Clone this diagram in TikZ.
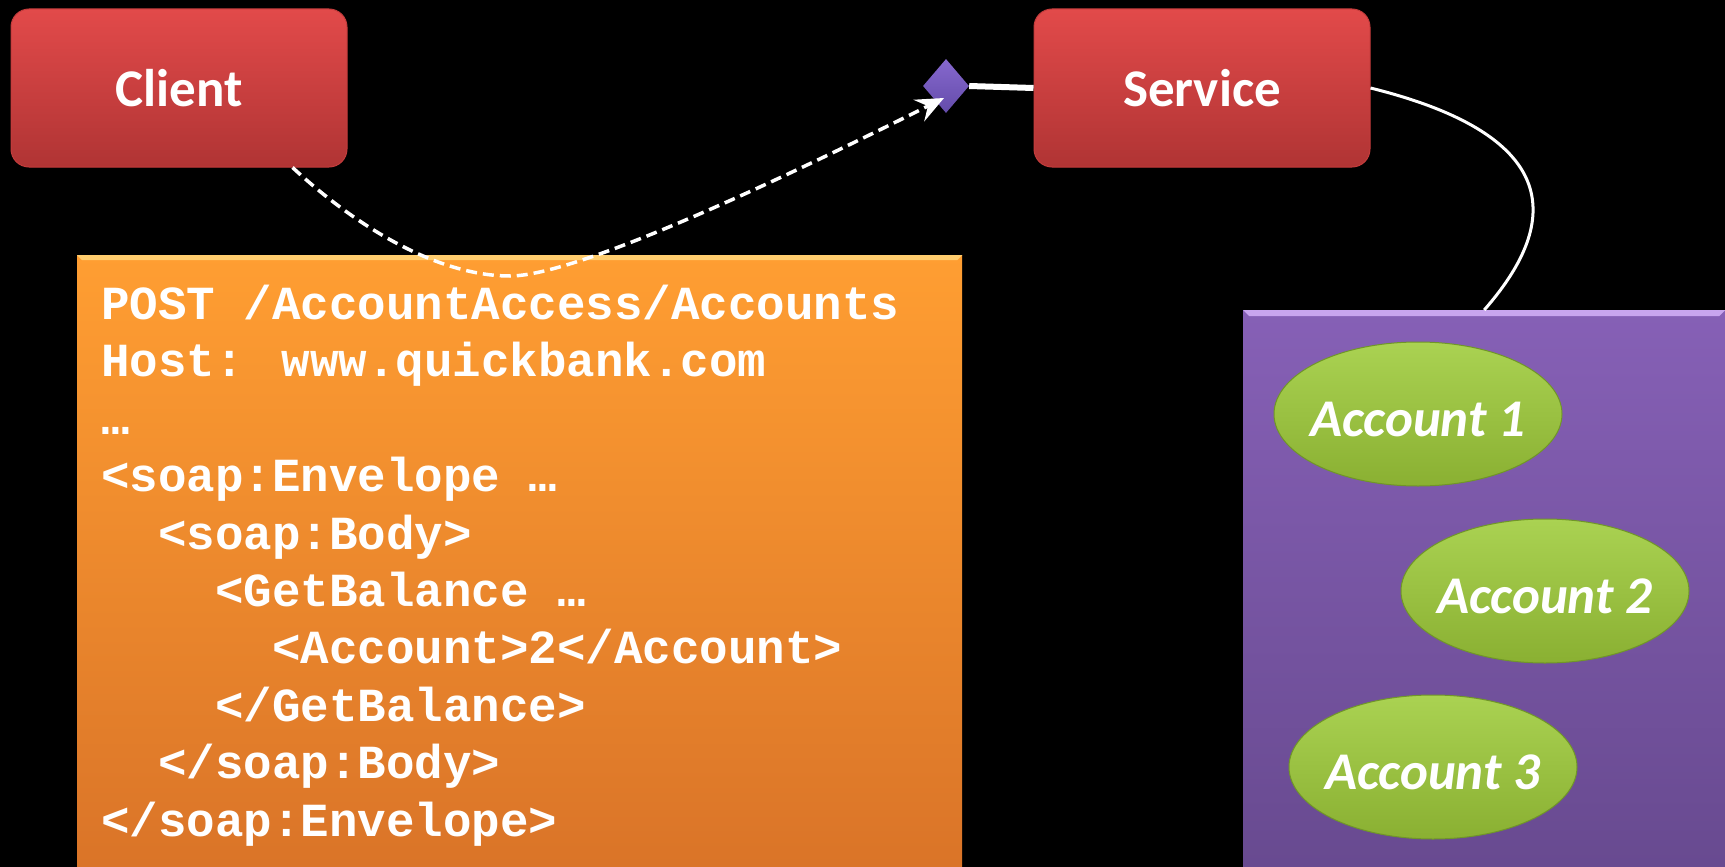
\documentclass[tikz,border=0pt]{standalone}
\usepackage{fontspec}
\setmainfont{Carlito}
\newfontfamily\codefont{Liberation Mono}
\usetikzlibrary{shapes.geometric,arrows.meta,calc}

\definecolor{redtop}{RGB}{226,74,74}
\definecolor{redbot}{RGB}{176,52,52}
\definecolor{redline}{RGB}{196,60,60}
\definecolor{orangetop}{RGB}{255,158,50}
\definecolor{orangebot}{RGB}{218,116,40}
\definecolor{orangelit}{RGB}{255,205,110}
\definecolor{purptop}{RGB}{134,96,182}
\definecolor{purpbot}{RGB}{104,74,144}
\definecolor{purplit}{RGB}{200,165,238}
\definecolor{greentop}{RGB}{170,210,82}
\definecolor{greenbot}{RGB}{138,176,50}
\definecolor{greenline}{RGB}{112,150,40}
\definecolor{diamtop}{RGB}{134,104,206}
\definecolor{diambot}{RGB}{100,76,170}

\tikzset{
  redbox/.style={rectangle, rounded corners=18pt, top color=redtop, bottom color=redbot,
    draw=redline, line width=1pt, minimum width=336, minimum height=158,
    text=white, font=\fontsize{53}{60}\selectfont\bfseries},
  acct/.style={ellipse, top color=greentop, bottom color=greenbot, draw=greenline,
    line width=1pt, minimum width=288, minimum height=144, inner sep=0pt},
  acctlabel/.style={text=white, inner sep=0pt, yshift=-5pt,
    font=\fontsize{53}{60}\selectfont\bfseries\itshape},
  codeline/.style={anchor=base west, inner sep=0pt, text=white,
    font=\codefont\bfseries\fontsize{47.5}{57}\selectfont},
  wire/.style={white, line width=3pt},
  msg/.style={white, line width=3.5pt, dash pattern=on 11pt off 6pt,
    -{Stealth[length=28pt,width=24pt,inset=10pt]}},
}

\begin{document}
\begin{tikzpicture}[x=1pt,y=-1pt]
  \useasboundingbox (0,0) rectangle (1725,867);
  \fill[black] (0,0) rectangle (1725,867);

  % request message panel
  \node[rectangle, anchor=north west, minimum width=885, minimum height=612, inner sep=0pt,
        top color=orangetop, bottom color=orangebot] (req) at (77,255) {};
  \fill[orangelit] (req.north west) -- (req.north east) -- ++(-5,5) -- ($(req.north west)+(5,5)$) -- cycle;

  % account store panel
  \node[rectangle, anchor=north west, minimum width=482, minimum height=557, inner sep=0pt,
        top color=purptop, bottom color=purpbot] (store) at (1243,310) {};
  \fill[purplit] (store.north west) -- (store.north east) -- ++(-6,6) -- ($(store.north west)+(6,6)$) -- cycle;

  % client and service
  \node[redbox] (cli) at (179,88) {Client\hspace{8pt}};
  \node[redbox] (svc) at (1202,88) {Service};

  % endpoint
  \node[diamond, top color=diamtop, bottom color=diambot, minimum width=46, minimum height=54,
        inner sep=0pt] (dia) at (946,86) {};
  \draw[white, line width=6pt] (dia.east) -- (svc.west);

  % accounts
  \node[acct, label={[acctlabel]center:Account 1}] (a1) at (1418,414) {};
  \node[acct, label={[acctlabel]center:Account 2}] (a2) at (1545,591) {};
  \node[acct, label={[acctlabel]center:Account 3}] (a3) at (1433,767) {};

  % service to store
  \draw[wire] (svc.east) .. controls (1580,140) and (1550,235) .. (store.north);

  % SOAP request text
  \node[codeline] (l1) at (101,319.5) {POST /AccountAccess/Accounts};
  \node[codeline] (l2) at (101,376.9) {Host: www.quickbank.com};
  \node[codeline] (l3) at (101,434.3) {…};
  \node[codeline] (l4) at (101,491.7) {<soap:Envelope …};
  \node[codeline] (l5) at (158,549.1) {<soap:Body>};
  \node[codeline] (l6) at (215,606.5) {<GetBalance …};
  \node[codeline] (l7) at (272,663.9) {<Account>2</Account>};
  \node[codeline] (l8) at (215,721.3) {</GetBalance>};
  \node[codeline] (l9) at (158,778.7) {</soap:Body>};
  \node[codeline] (l10) at (101,836.1) {</soap:Envelope>};

  % message from client to endpoint
  \draw[msg] (cli.-35) .. controls (360,230) and (440,276) .. (510,276)
             .. controls (580,276) and (800,170) .. ($(dia.center)+(-2,12)$);
\end{tikzpicture}
\end{document}
